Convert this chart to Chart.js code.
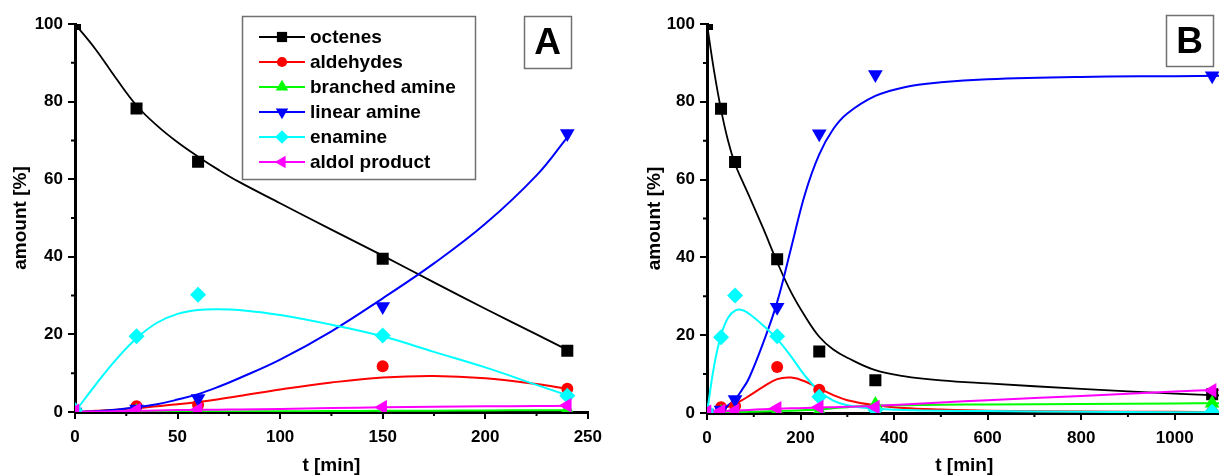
<!DOCTYPE html>
<html>
<head>
<meta charset="utf-8">
<script src="https://cdn.jsdelivr.net/npm/chart.js@4.4.1/dist/chart.umd.min.js"></script>
<style>
  html, body { margin: 0; padding: 0; background: #fff; }
  body { width: 1219px; height: 475px; overflow: hidden; position: relative; }
  canvas { position: absolute; top: 0; }
  #chartA { left: 0; }
  #chartB { left: 610px; }
</style>
</head>
<body>
<canvas id="chartA" width="610" height="475"></canvas>
<canvas id="chartB" width="620" height="475"></canvas>
<script>
const seriesNames = ['octenes', 'aldehydes', 'branched amine', 'linear amine', 'enamine', 'aldol product'];
const seriesColors = ['#000000', '#ff0000', '#00ff00', '#0000ff', '#00ffff', '#ff00ff'];
const markerStyles = ['rect', 'circle', 'triangle', 'triangle', 'rectRot', 'triangle'];
const markerRotations = [0, 0, 0, 180, 0, 270];
const markerRadius = [8.5, 6, 8.5, 8.5, 8, 8.5];

// measured points, panel A
const timeA = [0, 30, 60, 150, 240];
const octenesA = [100, 78.2, 64.5, 39.5, 15.8];
const aldehydesA = [0, 1.5, 1.8, 11.8, 6.0];
const branchedA = [0, 0.1, 0.2, 0.3, 0.5];
const linearA = [0, 0.8, 3.5, 27.2, 71.8];
const enamineA = [0.5, 19.5, 30.2, 19.7, 4.2];
const aldolA = [0.3, 0.5, 0.6, 1.2, 1.7];

// fitted curves, panel A
const fitTimeA = [0, 10, 20, 30, 40, 50, 60, 70, 80, 100, 125, 150, 175, 200, 225, 240];
const fitOctenesA = [100, 93.5, 86, 79, 73.8, 69.5, 65.8, 62.4, 59.3, 53.8, 47, 40.3, 33.4, 26.6, 20, 16];
const fitAldehydesA = [0, 0.3, 0.6, 1, 1.5, 2, 2.6, 3.3, 4.1, 5.8, 7.6, 8.9, 9.3, 8.7, 7.2, 6];
const fitBranchedA = [0, 0.02, 0.04, 0.06, 0.08, 0.1, 0.12, 0.14, 0.16, 0.2, 0.25, 0.3, 0.35, 0.4, 0.45, 0.48];
const fitLinearA = [0, 0.2, 0.6, 1.2, 2, 3.2, 4.6, 6.5, 8.7, 13.5, 20.8, 29.3, 38.3, 48.5, 61, 70.8];
const fitEnamineA = [0, 7, 13.5, 19, 23, 25.3, 26.3, 26.5, 26.3, 25, 22.5, 19.5, 15.5, 11.5, 7, 4.3];
const fitAldolA = [0, 0.1, 0.2, 0.3, 0.4, 0.5, 0.55, 0.6, 0.65, 0.8, 1.0, 1.2, 1.35, 1.45, 1.55, 1.6];

// measured points, panel B
const timeB = [0, 30, 60, 150, 240, 360, 1080];
const octenesB = [100, 78.2, 64.5, 39.5, 15.8, 8.4, 4.8];
const aldehydesB = [0, 1.5, 1.8, 11.8, 6.0, 1.0, 0.3];
const branchedB = [0, 0.1, 0.2, 0.3, 0.5, 2.2, 2.5];
const linearB = [0, 0.8, 3.5, 27.2, 71.8, 87.0, 86.7];
const enamineB = [0.5, 19.5, 30.2, 19.7, 4.2, 0.8, 0.3];
const aldolB = [0.3, 0.5, 0.6, 1.2, 1.5, 1.5, 5.8];

// fitted curves, panel B
const fitTimeB = [0, 15, 30, 45, 60, 75, 90, 120, 150, 180, 210, 240, 270, 300, 360, 420, 500, 600, 800, 1000, 1100];
const fitOctenesB = [100, 88, 78, 70, 64, 59.8, 55.8, 47.5, 38.8, 31, 24.8, 19.6, 16.3, 14.2, 11, 9.5, 8.4, 7.6, 6.2, 5, 4.5];
const fitAldehydesB = [0, 0.5, 1, 1.6, 2.4, 3.3, 4.4, 6.7, 8.7, 9.1, 8.1, 6.3, 4.6, 3.3, 2.0, 1.3, 0.9, 0.6, 0.4, 0.3, 0.2];
const fitBranchedB = [0, 0.05, 0.1, 0.15, 0.2, 0.25, 0.3, 0.4, 0.5, 0.6, 0.75, 0.9, 1.2, 1.5, 1.9, 2.0, 2.1, 2.2, 2.3, 2.45, 2.5];
const fitLinearB = [0, 0.3, 1, 2, 3.5, 6, 9, 18, 28.5, 42.5, 56.5, 66.5, 73, 77, 81.5, 83.7, 85, 85.8, 86.4, 86.6, 86.7];
const fitEnamineB = [0, 12, 20, 24.5, 26.3, 26.5, 25.5, 22.5, 19, 14.5, 9.5, 5.6, 3.2, 2, 1.1, 0.8, 0.6, 0.5, 0.3, 0.2, 0.2];
const fitAldolB = [0, 0.2, 0.35, 0.5, 0.6, 0.7, 0.8, 0.95, 1.1, 1.2, 1.3, 1.4, 1.5, 1.6, 1.8, 2.2, 2.7, 3.3, 4.4, 5.5, 6.0];

const FONT = '"Liberation Sans", Arial, Helvetica, sans-serif';

function pairs(xs, ys) {
    return xs.map((x, i) => ({ x: x, y: ys[i] }));
}

function buildDatasets(time, points, fitTime, fits) {
    const sets = [];
    fits.forEach((fit, i) => {
        sets.push({
            data: pairs(fitTime, fit),
            showLine: true,
            borderColor: seriesColors[i],
            borderWidth: i === 0 ? 1.8 : 2,
            pointRadius: 0,
            tension: 0.4,
            order: 20 - i
        });
    });
    points.forEach((vals, i) => {
        sets.push({
            data: pairs(time, vals),
            showLine: false,
            backgroundColor: seriesColors[i],
            borderWidth: 0,
            pointStyle: markerStyles[i],
            rotation: markerRotations[i],
            pointRadius: markerRadius[i],
            clip: 0,
            order: 10 - i
        });
    });
    return sets;
}

// minor ticks, panel letter box and the legend
const panelDecor = {
    id: 'panelDecor',
    afterDraw(chart, args, opts) {
        const ctx = chart.ctx;
        const area = chart.chartArea;
        const xs = chart.scales.x;
        const ys = chart.scales.y;
        ctx.save();
        ctx.strokeStyle = '#000';
        ctx.lineWidth = 2;
        ctx.beginPath();
        for (let v = opts.xMinor; v < xs.max; v += opts.xMinor * 2) {
            const px = xs.getPixelForValue(v);
            ctx.moveTo(px, area.bottom);
            ctx.lineTo(px, area.bottom + 4);
        }
        for (let v = 10; v < 100; v += 20) {
            const py = ys.getPixelForValue(v);
            ctx.moveTo(area.left - 4, py);
            ctx.lineTo(area.left, py);
        }
        ctx.stroke();

        // letter box
        const b = opts.box;
        ctx.strokeStyle = '#707070';
        ctx.lineWidth = 1.5;
        ctx.strokeRect(b[0] + 0.5, b[1] + 0.5, b[2], b[3]);
        ctx.fillStyle = '#000';
        ctx.font = 'bold 37px ' + FONT;
        ctx.textAlign = 'center';
        ctx.textBaseline = 'middle';
        ctx.fillText(opts.letter, b[0] + b[2] / 2, b[1] + b[3] / 2 + 2);

        if (opts.legend) {
            const L = opts.legend;
            ctx.strokeStyle = '#707070';
            ctx.lineWidth = 1.5;
            ctx.strokeRect(L[0] + 0.5, L[1] + 0.5, L[2], L[3]);
            ctx.font = 'bold 19px ' + FONT;
            ctx.textAlign = 'left';
            seriesNames.forEach((name, i) => {
                const y = L[1] + 21 + i * 25;
                const x0 = L[0] + 17;
                ctx.strokeStyle = seriesColors[i];
                ctx.lineWidth = 2;
                ctx.beginPath();
                ctx.moveTo(x0, y);
                ctx.lineTo(x0 + 46, y);
                ctx.stroke();
                ctx.fillStyle = seriesColors[i];
                Chart.helpers.drawPoint(ctx, {
                    pointStyle: markerStyles[i],
                    rotation: markerRotations[i],
                    radius: markerRadius[i] * 0.85,
                    borderWidth: 0
                }, x0 + 23, y);
                ctx.fillStyle = '#000';
                ctx.fillText(name, x0 + 51, y + 1);
            });
        }
        ctx.restore();
    }
};

function makeChart(id, datasets, xMax, xStep, padLeft, padRight, yWidth, xHeight, decor) {
    const tickFont = { family: FONT, size: 17, weight: 'bold' };
    const titleFont = { family: FONT, size: 19, weight: 'bold', lineHeight: 1 };
    return new Chart(document.getElementById(id), {
        type: 'scatter',
        data: { datasets: datasets },
        options: {
            responsive: false,
            animation: false,
            events: [],
            devicePixelRatio: 1,
            layout: { padding: { left: padLeft, right: padRight, top: 24, bottom: 0 } },
            plugins: {
                legend: { display: false },
                tooltip: { enabled: false },
                panelDecor: decor
            },
            scales: {
                x: {
                    type: 'linear',
                    min: 0,
                    max: xMax,
                    afterFit: s => { s.height = xHeight; },
                    ticks: {
                        stepSize: xStep, includeBounds: false, font: tickFont, color: '#000', padding: 8, maxRotation: 0,
                        callback: v => String(v)
                    },
                    grid: { drawOnChartArea: false, tickLength: 7, color: '#000', lineWidth: 2 },
                    border: { color: '#000', width: 3 },
                    title: { display: true, text: 't [min]', font: titleFont, color: '#000', padding: { top: 0, bottom: 0 } }
                },
                y: {
                    type: 'linear',
                    min: 0,
                    max: 100,
                    afterFit: s => { s.width = yWidth; },
                    ticks: { stepSize: 20, font: tickFont, color: '#000', padding: 5 },
                    grid: { drawOnChartArea: false, tickLength: 7, color: '#000', lineWidth: 2 },
                    border: { color: '#000', width: 3 },
                    title: { display: true, text: 'amount [%]', font: titleFont, color: '#000', padding: { top: 11, bottom: 0 } }
                }
            }
        },
        plugins: [panelDecor]
    });
}

const chartA = makeChart('chartA',
    buildDatasets(timeA, [octenesA, aldehydesA, branchedA, linearA, enamineA, aldolA],
        fitTimeA, [fitOctenesA, fitAldehydesA, fitBranchedA, fitLinearA, fitEnamineA, fitAldolA]),
    250, 50, 0, 22, 75, 63,
    { xMinor: 25, letter: 'A', box: [524, 16, 47, 52], legend: [242, 16, 233, 163] });

const chartB = makeChart('chartB',
    buildDatasets(timeB, [octenesB, aldehydesB, branchedB, linearB, enamineB, aldolB],
        fitTimeB, [fitOctenesB, fitAldehydesB, fitBranchedB, fitLinearB, fitEnamineB, fitAldolB]),
    1100, 200, 24, 8, 73, 62,
    { xMinor: 100, letter: 'B', box: [556, 15, 47, 51], legend: null });
</script>
</body>
</html>
